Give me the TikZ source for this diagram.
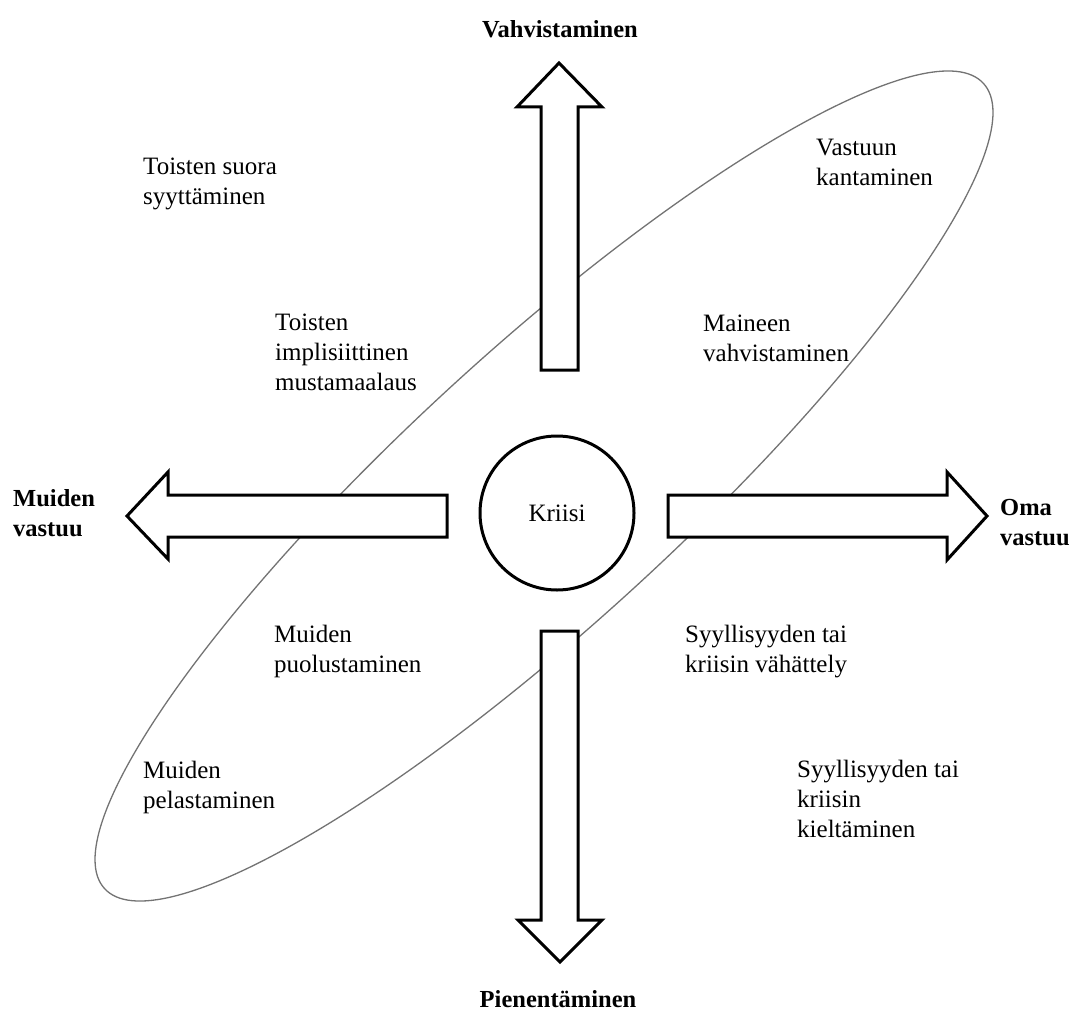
\documentclass[tikz,border=0pt]{standalone}
\usepackage{fontspec}
\setmainfont{Liberation Serif}
\begin{document}
\begin{tikzpicture}[x=1pt,y=-1pt,
  lab/.style={anchor=base west, inner sep=0pt, font=\fontsize{25}{30}\selectfont},
  boldlab/.style={inner sep=0pt, font=\fontsize{24.5}{30}\selectfont\bfseries},
  bigarrow/.style={draw=black, line width=3pt, line join=miter, fill=white},
  ring/.style={draw=black!55, line width=1.3pt}]
\useasboundingbox (0,0) rectangle (1070,1014);
% ellipse
\draw[ring, rotate around={42.5:(544,486)}] (544,486) ellipse [x radius=596pt, y radius=136pt];
% arrows
\draw[bigarrow] (541,370) -- (541,107) -- (517,107) -- (559,63) -- (602,107) -- (578,107) -- (578,370) -- cycle;
\draw[bigarrow] (541,631) -- (541,920) -- (518,920) -- (560,962) -- (602,920) -- (578,920) -- (578,631) -- cycle;
\draw[bigarrow] (447,495) -- (168,495) -- (168,472) -- (127,516) -- (168,559) -- (168,537) -- (447,537) -- cycle;
\draw[bigarrow] (668,495) -- (947,495) -- (947,472) -- (987,516) -- (947,560) -- (947,537) -- (668,537) -- cycle;
% centre
\node[circle, draw=black, line width=3pt, minimum size=154pt, inner sep=0pt, font=\fontsize{25}{30}\selectfont] (kriisi) at (557,513) {Kriisi};
% axis labels
\node[boldlab, anchor=base] (vahv) at (560,38) {Vahvistaminen};
\node[boldlab, anchor=base] (pien) at (558,1007) {Pienentäminen};
\node[boldlab, anchor=base west] (muiv) at (13,506) {\vtop{\hbox{Muiden}\hbox{vastuu}}};
\node[boldlab, anchor=base west] (oma) at (1000,515) {\vtop{\hbox{Oma}\hbox{vastuu}}};
% strategy labels
\node[lab] (t1) at (143,174) {\vtop{\hbox{Toisten suora}\hbox{syyttäminen}}};
\node[lab] (t2) at (816,155) {\vtop{\hbox{Vastuun}\hbox{kantaminen}}};
\node[lab] (t3) at (275,330) {\vtop{\hbox{Toisten}\hbox{implisiittinen}\hbox{mustamaalaus}}};
\node[lab] (t4) at (703,331) {\vtop{\hbox{Maineen}\hbox{vahvistaminen}}};
\node[lab] (t5) at (274,642) {\vtop{\hbox{Muiden}\hbox{puolustaminen}}};
\node[lab] (t6) at (685,642) {\vtop{\hbox{Syyllisyyden tai}\hbox{kriisin vähättely}}};
\node[lab] (t7) at (143,778) {\vtop{\hbox{Muiden}\hbox{pelastaminen}}};
\node[lab] (t8) at (797,777) {\vtop{\hbox{Syyllisyyden tai}\hbox{kriisin}\hbox{kieltäminen}}};
\end{tikzpicture}
\end{document}
